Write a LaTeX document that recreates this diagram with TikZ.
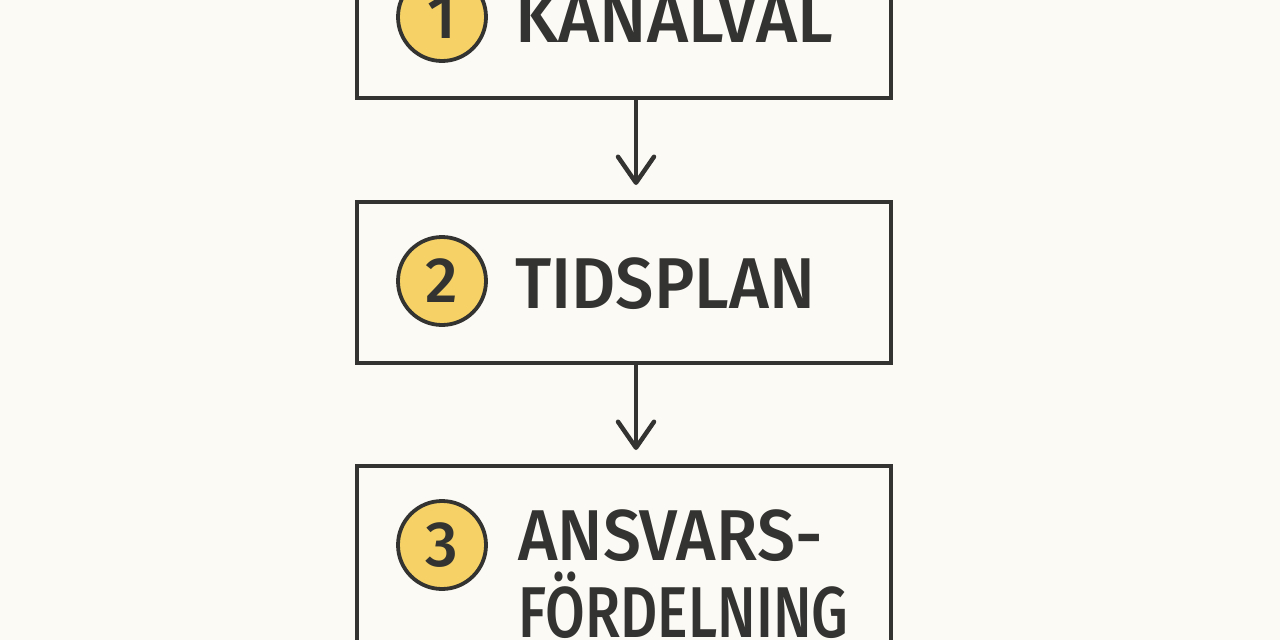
\documentclass[tikz,border=0pt]{standalone}
\usepackage{fontspec}
\setmainfont{Fira Sans Medium}
\usetikzlibrary{arrows.meta}
\definecolor{bg}{HTML}{FCFAF5}
\definecolor{ink}{HTML}{333331}
\definecolor{gold}{HTML}{F6D266}
\tikzset{
  stepbox/.style={draw=ink, line width=4pt, minimum width=534pt, inner sep=0pt, line join=miter},
  badge/.style={circle, draw=ink, line width=3.8pt, fill=gold, minimum size=88pt, inner sep=0pt,
    text=ink, font=\fontsize{64}{64}\selectfont},
  label/.style={anchor=base west, inner sep=0pt, text=ink, font=\fontsize{72}{72}\selectfont},
  flow/.style={draw=ink, line width=4.5pt, line cap=round,
    -{Straight Barb[length=26pt, width=36pt, line width=4.5pt, round]}}
}
\begin{document}
\begin{tikzpicture}[x=1pt,y=-1pt]
\fill[bg] (0,0) rectangle (1280,640);
\useasboundingbox (0,0) rectangle (1280,640);
\clip (0,0) rectangle (1280,640);
\node[stepbox, minimum height=164pt] (b1) at (624,16) {};
\node[stepbox, minimum height=161pt] (b2) at (624,282.5) {};
\node[stepbox, minimum height=184pt] (b3) at (624,558) {};
\node[badge] (c1) at (442,17) {1};
\node[badge] (c2) at (442,281) {2};
\node[badge] (c3) at (442,545) {3};
\node[label] (t1) at (515,42) {\scalebox{0.98}[1]{KANALVAL}};
\node[label] (t2) at (515,308) {\scalebox{0.95}[1]{TIDSPLAN}};
\node[label] (t3a) at (518,560) {\scalebox{0.94}[1]{ANSVARS-}};
\node[label] (t3b) at (518,637) {\scalebox{0.8}[1]{FÖRDELNING}};
\draw[flow] ([xshift=12pt]b1.south) -- ([xshift=12pt,yshift=15pt]b2.north);
\draw[flow] ([xshift=12pt]b2.south) -- ([xshift=12pt,yshift=14pt]b3.north);
\end{tikzpicture}
\end{document}
